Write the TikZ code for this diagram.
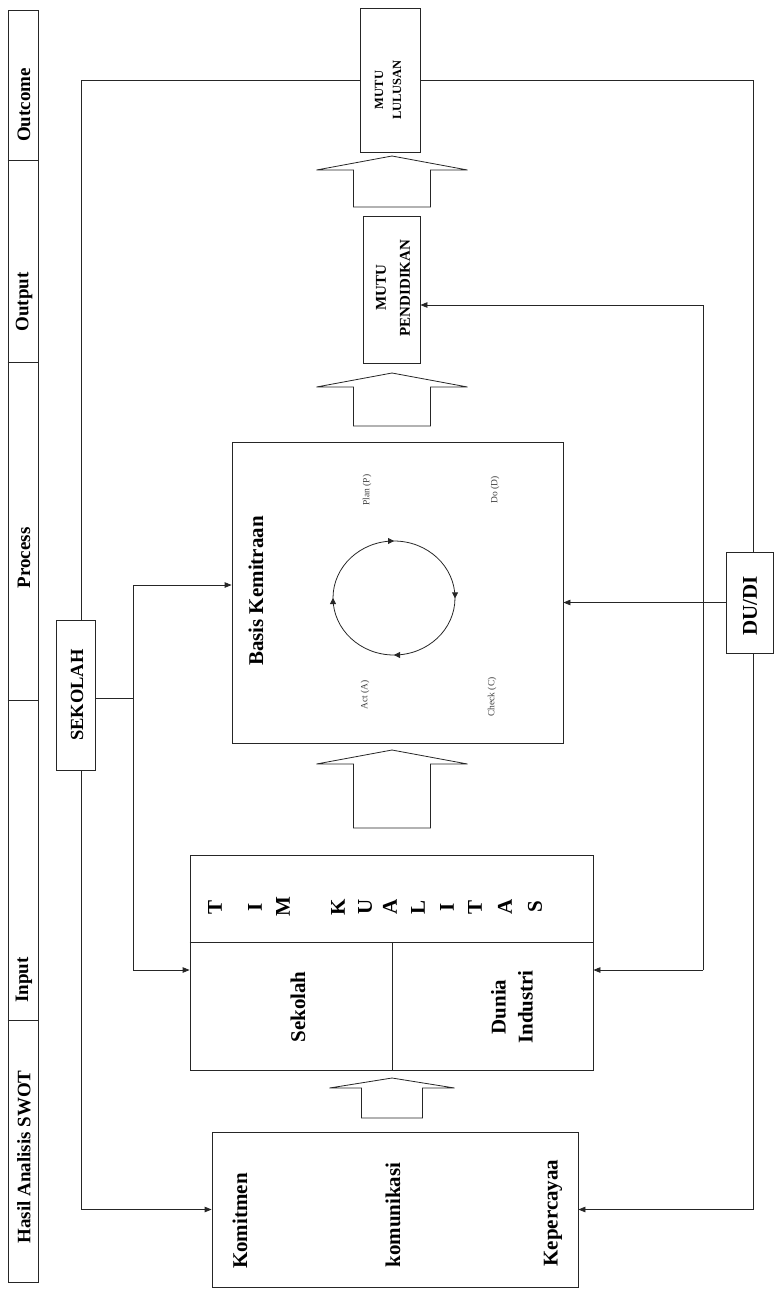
\documentclass[tikz,border=0pt]{standalone}
\usepackage{fontspec}
\setmainfont{Liberation Serif}
\usetikzlibrary{arrows.meta,decorations.markings,calc}
\begin{document}
\begin{tikzpicture}[x=1pt,y=-1pt,
  ln/.style={line width=0.8pt, draw=black!85},
  box/.style={ln, draw, inner sep=0pt, anchor=center},
  arr/.style={ln, -{Triangle[length=7pt,width=5.5pt]}},
  big/.style={font=\bfseries\fontsize{21}{27}\selectfont, rotate=90, align=center, inner sep=0pt},
  hdr/.style={font=\bfseries\fontsize{19}{22}\selectfont, rotate=90, inner sep=0pt},
  pdca/.style={font=\fontsize{9.5}{11}\selectfont, rotate=90, inner sep=0pt, text=black!75},
  blk/.style={ln, fill=white},
  pics/blockup/.style args={#1/#2/#3/#4}{code={
    \draw[blk] (0,0) -- (#2,#1) -- (#3,#1) -- (#3,#4) -- (-#3,#4) -- (-#3,#1) -- (-#2,#1) -- cycle;}}
]
\useasboundingbox (0,0) rectangle (774,1291);

% header strip
\node[box, minimum width=30, minimum height=1272] (strip) at (23,646) {};
\foreach \yy in {160,362,700,1020}
  \draw[ln] (strip.west |- 0,\yy) -- (strip.east |- 0,\yy);
\node[hdr] (hOutcome) at (24,105) {Outcome};
\node[hdr] (hOutput) at (24,302) {Output};
\node[hdr] (hProcess) at (24,558) {Process};
\node[hdr] (hInput) at (24,980) {Input};
\node[hdr] (hSwot) at (24,1157) {Hasil Analisis SWOT};

% boxes
\node[box, minimum width=60, minimum height=144] (lulusan) at (390,80) {};
\node[box, minimum width=57, minimum height=147] (pendidikan) at (391.5,289.5) {};
\node[box, minimum width=331, minimum height=301] (basis) at (397.5,592.5) {};
\node[box, minimum width=403, minimum height=215] (tim) at (391.5,962.5) {};
\node[box, minimum width=366, minimum height=155] (komit) at (395,1209.5) {};
\node[box, minimum width=39, minimum height=150] (sekolah) at (75.5,695) {};
\node[box, minimum width=47, minimum height=101] (dudi) at (749.5,602.5) {};

% texts
\node[rotate=90, align=center, inner sep=0pt, font=\bfseries\fontsize{12.5}{18}\selectfont] (tLulusan) at (388,90) {MUTU\\LULUSAN};
\node[rotate=90, align=center, inner sep=0pt, font=\bfseries\fontsize{15}{24}\selectfont] (tPendidikan) at (393,288) {MUTU\\PENDIDIKAN};
\node[big] (tBasis) at (256,591) {Basis Kemitraan};
\node[big, font=\bfseries\fontsize{18.5}{22}\selectfont] (tSekolahBox) at (77,695) {SEKOLAH};
\node[big] (tDudi) at (750,606) {DU/DI};
\node[big] (tKomitmen) at (240,1221) {Komitmen};
\node[big] (tKomunikasi) at (393,1215) {komunikasi};
\node[big] (tKepercayaa) at (553,1213) {Kepercayaa};
\node[big] (tSekolah) at (298,1007) {Sekolah};
\node[big] (tDunia) at (512,1007) {Dunia\\Industri};
\foreach \l/\xx [count=\i] in {T/215,I/255,M/283,K/338,U/365,A/390,L/418,I/447,T/475,A/505,S/535}
  \node[big] (tk\i) at (\xx,907) {\l};

% PDCA
\node[pdca] (tPlan) at (367,490) {Plan (P)};
\node[pdca] (tDo) at (495,490) {Do (D)};
\node[pdca] (tAct) at (365,695) {Act (A)};
\node[pdca] (tCheck) at (492,697) {Check (C)};
\draw[ln, postaction={decorate}, decoration={markings,
   mark=at position 0.001 with {\arrow{Triangle[length=6pt,width=6pt]}},
   mark=at position 0.25 with {\arrow{Triangle[length=6pt,width=6pt]}},
   mark=at position 0.5 with {\arrow{Triangle[length=6pt,width=6pt]}},
   mark=at position 0.75 with {\arrow{Triangle[length=6pt,width=6pt]}}}]
   (394,598) ellipse [x radius=61, y radius=57];

% TIM KUALITAS dividers
\coordinate (tdiv) at (392,942);
\draw[ln] (tim.west |- tdiv) -- (tim.east |- tdiv);
\draw[ln] (tdiv) -- (tdiv |- tim.south);

% block arrows
\pic at (392,156) {blockup={14/75.5/38.5/51}};
\pic at (392,373) {blockup={14/75.5/38.5/53}};
\pic at (392,750) {blockup={14/75.5/38.5/78}};
\pic at (392,1078) {blockup={10/62.5/30.5/40}};

% SEKOLAH connectors
\coordinate (jL) at (81,80);
\draw[ln] (lulusan.west) -- (jL) -- (jL |- sekolah.north);
\draw[arr] (jL |- sekolah.south) -- (jL |- komit.west) -- (komit.west);
\coordinate (jS) at (133,698);
\coordinate (jS1) at (133,585);
\coordinate (jS2) at (133,970);
\draw[ln] (sekolah.east |- jS) -- (jS);
\draw[arr] (jS2) -- (jS1) -- (basis.west |- jS1);
\draw[arr] (jS2) -- (tim.west |- jS2);

% DU/DI connectors
\coordinate (jR) at (753,80);
\draw[ln] (lulusan.east) -- (jR) -- (jR |- dudi.north);
\draw[arr] (jR |- dudi.south) -- (jR |- komit.east) -- (komit.east);
\draw[arr] (dudi.west) -- (basis.east |- dudi.west);
\coordinate (jP1) at (703,305);
\coordinate (jP2) at (703,970);
\draw[arr] (jP2) -- (jP1) -- (pendidikan.east |- jP1);
\draw[arr] (jP2) -- (tim.east |- jP2);
\end{tikzpicture}
\end{document}
